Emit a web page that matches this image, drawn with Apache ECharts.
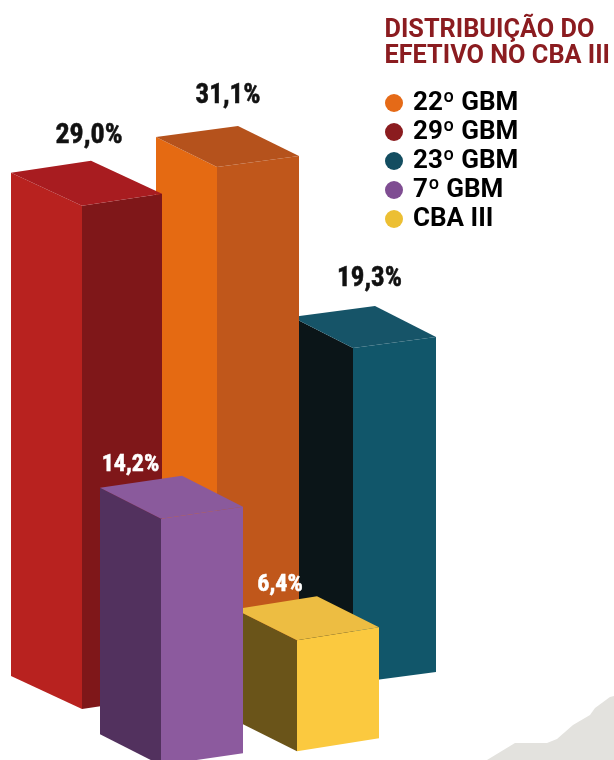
<!DOCTYPE html>
<html>
<head>
<meta charset="utf-8">
<style>html,body{margin:0;padding:0;background:#fff}#c{width:614px;height:760px}</style>
<script src="https://cdn.jsdelivr.net/npm/echarts@6/dist/echarts.min.js"></script>
</head>
<body>
<div id="c"></div>
<script>
// Data
var categories = ['23º GBM', '22º GBM', '29º GBM', 'CBA III', '7º GBM'];
var values = [19.3, 31.1, 29.0, 6.4, 14.2];
var legendOrder = ['22º GBM', '29º GBM', '23º GBM', '7º GBM', 'CBA III'];
var titleLines = ['DISTRIBUIÇÃO DO', 'EFETIVO NO CBA III'];

// Layout of the pseudo-3D blocks (axis units: x = px, lift = value units)
var layout = {
  '23º GBM': {x: 353, lift: -0.56, l: [-61, -31], r: [83, -11], lx: 369.5, ly: -13, size: 27, color: '#111'},
  '22º GBM': {x: 217, lift: -1.93, l: [-61, -30], r: [82, -11], lx: 228, ly: -16, size: 27, color: '#111'},
  '29º GBM': {x: 82, lift: -2.06, l: [-71, -33], r: [80, -12], lx: 89, ly: -11, size: 28, color: '#111'},
  'CBA III': {x: 297, lift: -4.5, l: [-62, -31], r: [82, -13], lx: 280, ly: 1, size: 24, color: '#fff'},
  '7º GBM': {x: 161, lift: -5.3, l: [-61, -31], r: [82, -12], lx: 130.5, ly: 1, size: 24, color: '#fff'}
};
var palette = {
  '23º GBM': {key: '#134d60', left: '#0b1518', right: '#11566a', top: '#165468'},
  '22º GBM': {key: '#e56a17', left: '#e56a12', right: '#c0571b', top: '#b5521c'},
  '29º GBM': {key: '#8b1c1f', left: '#b8221f', right: '#7f1719', top: '#a81c20'},
  'CBA III': {key: '#ecbf33', left: '#6a5419', right: '#fbc93f', top: '#edbd42'},
  '7º GBM': {key: '#7f4d92', left: '#52315e', right: '#8c5a9e', top: '#8a5a9c'}
};

function renderBlock(params, api) {
  var name = categories[api.value(0)];
  var g = layout[name], c = palette[name];
  var v = api.value(1);
  var base = api.coord([g.x, g.lift]);
  var h = api.size([0, v])[1];
  var fx = base[0], fb = base[1], ft = fb - h;
  var L = g.l, R = g.r;
  function poly(pts, fill) {
    return {type: 'polygon', shape: {points: pts}, style: {fill: fill}};
  }
  var back = [fx + L[0] + R[0], ft + L[1] + R[1]];
  return {
    type: 'group',
    children: [
      poly([[fx + L[0], ft + L[1]], [fx, ft], [fx, fb], [fx + L[0], fb + L[1]]], c.left),
      poly([[fx, ft], [fx + R[0], ft + R[1]], [fx + R[0], fb + R[1]], [fx, fb]], c.right),
      poly([[fx + L[0], ft + L[1]], back, [fx + R[0], ft + R[1]], [fx, ft]], c.top),
      {
        type: 'text',
        style: {
          x: g.lx, y: back[1] + g.ly,
          text: v.toFixed(1).replace('.', ',') + '%',
          fill: g.color,
          stroke: g.color, lineWidth: 0.5,
          font: 'bold ' + g.size + 'px "Liberation Sans Narrow", "Roboto Condensed", Roboto, sans-serif',
          textAlign: 'center', textVerticalAlign: 'bottom'
        },
        z2: 10
      }
    ]
  };
}

var series = categories.map(function (name, i) {
  return {
    type: 'custom',
    name: name,
    coordinateSystem: 'cartesian2d',
    renderItem: renderBlock,
    itemStyle: {color: palette[name].key},
    encode: {x: 0, y: 1},
    data: [[i, values[i]]],
    silent: true,
    animation: false
  };
});

var chart = echarts.init(document.getElementById('c'), null, {renderer: 'canvas'});
chart.setOption({
  animation: false,
  backgroundColor: '#fff',
  grid: {left: 0, right: 0, top: 0, bottom: 0},
  xAxis: {type: 'value', min: 0, max: 614, show: false},
  yAxis: {type: 'value', min: -5, max: 38.8, show: false},
  title: {
    text: titleLines.join('\n'),
    left: 379.5, top: 12.5,
    textStyle: {
      color: '#8b1c20', fontFamily: 'Roboto', fontWeight: 700,
      fontSize: 25.3, lineHeight: 26
    }
  },
  legend: {
    data: legendOrder,
    orient: 'vertical',
    left: 380, top: 85,
    icon: 'circle',
    itemWidth: 18, itemHeight: 18, itemGap: 3,
    selectedMode: false,
    textStyle: {
      color: '#000', fontFamily: 'Roboto', fontWeight: 700,
      fontSize: 26, lineHeight: 18, padding: [0, 0, 0, 5]
    }
  },
  graphic: [{
    type: 'polygon', z: -1, silent: true,
    shape: {points: [[487, 760], [515, 743], [547, 743], [557, 739], [573, 725], [590, 715], [595, 708], [610, 697], [614, 696], [614, 760]]},
    style: {fill: '#e3e2de'}
  }],
  series: series
});
</script>
</body>
</html>
